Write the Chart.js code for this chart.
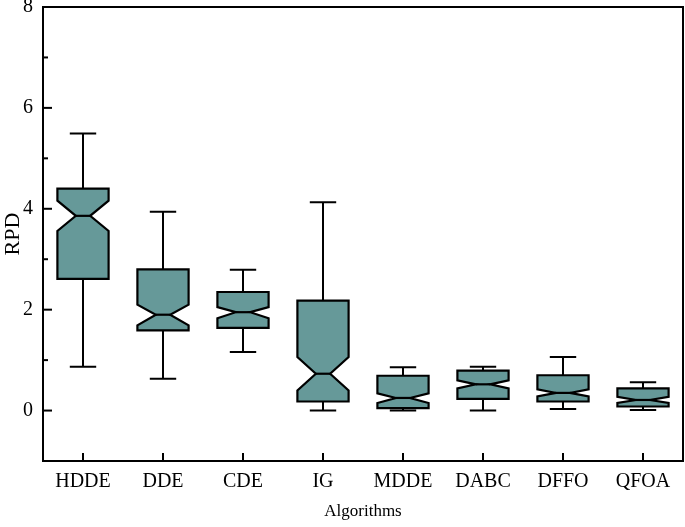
<!DOCTYPE html>
<html>
<head>
<meta charset="utf-8">
<script src="https://cdn.jsdelivr.net/npm/chart.js@4.4.1/dist/chart.umd.min.js"></script>
<style>
  html, body { margin: 0; padding: 0; background: #fff; }
  #wrap { width: 685px; height: 527px; }
</style>
</head>
<body>
<div id="wrap"><canvas id="rpd-box"></canvas></div>
<script>
// Box statistics
const categories = ['HDDE', 'DDE', 'CDE', 'IG', 'MDDE', 'DABC', 'DFFO', 'QFOA'];
const whiskerLow = [0.87, 0.63, 1.16, 0.00, 0.00, 0.00, 0.03, 0.01];
const q1 = [2.61, 1.59, 1.64, 0.18, 0.05, 0.23, 0.18, 0.08];
const notchLow = [3.56, 1.69, 1.83, 0.40, 0.15, 0.44, 0.28, 0.15];
const median = [3.86, 1.90, 1.95, 0.73, 0.25, 0.52, 0.35, 0.21];
const notchHigh = [4.16, 2.10, 2.05, 1.06, 0.34, 0.60, 0.42, 0.27];
const q3 = [4.40, 2.80, 2.35, 2.18, 0.69, 0.79, 0.70, 0.44];
const whiskerHigh = [5.49, 3.94, 2.79, 4.13, 0.86, 0.87, 1.06, 0.56];
const yTickLabels = ['0', '2', '4', '6', '8'];

const boxFill = '#669999';
const ink = '#000';
const font = 'Liberation Serif';

// Draws notched boxes, whiskers, frame and inward ticks
const boxPlot = {
  id: 'boxPlot',
  afterDatasetsDraw(c) {
    const { ctx, chartArea: area, scales: { x, y } } = c;
    const band = x.getPixelForValue(1) - x.getPixelForValue(0);
    const hb = band * 0.32;
    const hc = band * 0.165;
    const hn = hb * 0.28;
    ctx.save();
    ctx.strokeStyle = ink;
    ctx.lineJoin = 'miter';
    categories.forEach((cat, i) => {
      const cx = x.getPixelForValue(i);
      const yl = y.getPixelForValue(whiskerLow[i]);
      const y1 = y.getPixelForValue(q1[i]);
      const ynl = y.getPixelForValue(notchLow[i]);
      const ym = y.getPixelForValue(median[i]);
      const ynh = y.getPixelForValue(notchHigh[i]);
      const y3 = y.getPixelForValue(q3[i]);
      const yh = y.getPixelForValue(whiskerHigh[i]);
      // whiskers
      ctx.lineWidth = 2;
      ctx.beginPath();
      ctx.moveTo(cx, y3); ctx.lineTo(cx, yh);
      ctx.moveTo(cx - hc, yh); ctx.lineTo(cx + hc, yh);
      ctx.moveTo(cx, y1); ctx.lineTo(cx, yl);
      ctx.moveTo(cx - hc, yl); ctx.lineTo(cx + hc, yl);
      ctx.stroke();
      // notched box
      ctx.beginPath();
      ctx.moveTo(cx - hb, y3);
      ctx.lineTo(cx + hb, y3);
      ctx.lineTo(cx + hb, ynh);
      ctx.lineTo(cx + hn, ym);
      ctx.lineTo(cx + hb, ynl);
      ctx.lineTo(cx + hb, y1);
      ctx.lineTo(cx - hb, y1);
      ctx.lineTo(cx - hb, ynl);
      ctx.lineTo(cx - hn, ym);
      ctx.lineTo(cx - hb, ynh);
      ctx.closePath();
      ctx.fillStyle = boxFill;
      ctx.fill();
      ctx.lineWidth = 2.2;
      ctx.stroke();
      // median
      ctx.beginPath();
      ctx.moveTo(cx - hn, ym); ctx.lineTo(cx + hn, ym);
      ctx.stroke();
      // x tick
      ctx.lineWidth = 2;
      ctx.beginPath();
      ctx.moveTo(cx, area.bottom); ctx.lineTo(cx, area.bottom - 8);
      ctx.stroke();
    });
    // y ticks (major on even values, minor on odd)
    ctx.lineWidth = 2;
    y.ticks.forEach((t) => {
      if (t.value <= y.min || t.value >= y.max) return;
      const py = y.getPixelForValue(t.value);
      const len = t.value % 2 === 0 ? 9 : 5;
      ctx.beginPath();
      ctx.moveTo(area.left, py); ctx.lineTo(area.left + len, py);
      ctx.stroke();
    });
    // frame
    ctx.strokeRect(area.left, area.top, area.right - area.left, area.bottom - area.top);
    ctx.restore();
  },
};

const ctx = document.getElementById('rpd-box');
// eslint-disable-next-line no-unused-vars
const chart = new Chart(ctx, {
  type: 'bar',
  data: {
    labels: categories,
    datasets: [{
      label: 'RPD',
      data: categories.map((c, i) => [whiskerLow[i], whiskerHigh[i]]),
      backgroundColor: 'rgba(0,0,0,0)',
      borderWidth: 0,
    }],
  },
  options: {
    responsive: true,
    maintainAspectRatio: false,
    animation: false,
    layout: {
      autoPadding: false,
      padding: { top: 7, right: 2, left: 0, bottom: 0 },
    },
    scales: {
      x: {
        grid: { display: false, drawTicks: false },
        border: { display: false },
        ticks: {
          color: ink,
          padding: 9,
          maxRotation: 0,
          font: { family: font, size: 20 },
        },
        title: {
          display: true,
          text: 'Algorithms',
          color: ink,
          padding: { top: 0, bottom: 5 },
          font: { family: font, size: 17 },
        },
        afterFit: (s) => {
          s.height = 66;
          s.paddingLeft = 0;
          s.paddingRight = 0;
        },
      },
      y: {
        min: -1,
        max: 8,
        grid: { display: false, drawTicks: false },
        border: { display: false },
        ticks: {
          stepSize: 1,
          color: ink,
          padding: 10,
          font: { family: font, size: 20 },
          callback: (v) => (v >= 0 && v % 2 === 0 ? yTickLabels[v / 2] : ''),
        },
        title: {
          display: true,
          text: 'RPD',
          color: ink,
          padding: { top: 0, bottom: 0 },
          font: { family: font, size: 22 },
        },
        afterFit: (s) => {
          s.width = 43;
          s.paddingTop = 0;
          s.paddingBottom = 0;
        },
      },
    },
    plugins: {
      legend: { display: false },
      tooltip: { enabled: false },
    },
  },
  plugins: [boxPlot],
});
</script>
</body>
</html>
